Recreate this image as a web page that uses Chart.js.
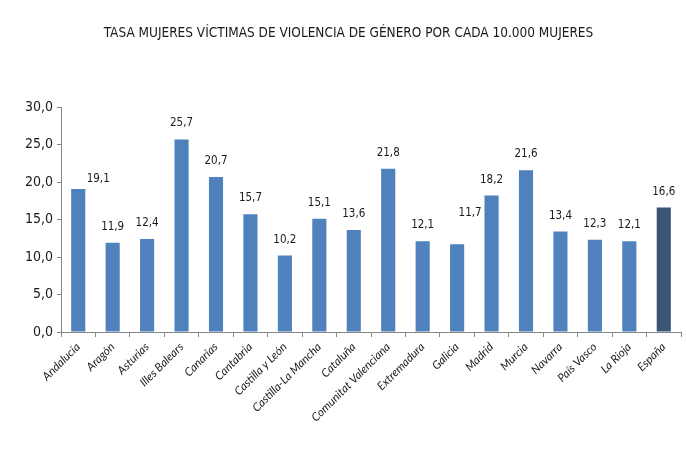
<!DOCTYPE html>
<html><head><meta charset="utf-8">
<script src="https://cdn.jsdelivr.net/npm/chart.js@4/dist/chart.umd.min.js"></script>
<style>html,body{margin:0;padding:0;background:#fff}#wrap{width:686px;height:455px}</style>
</head><body><div id="wrap"><canvas id="c" width="686" height="455"></canvas></div>
<script>
const categories = ["Andalucía","Aragón","Asturias","Illes Balears","Canarias","Cantabria","Castilla y León","Castilla-La Mancha","Cataluña","Comunitat Valenciana","Extremadura","Galicia","Madrid","Murcia","Navarra","País Vasco","La Rioja","España"];
const values = [19.1,11.9,12.4,25.7,20.7,15.7,10.2,15.1,13.6,21.8,12.1,11.7,18.2,21.6,13.4,12.3,12.1,16.6];
const yTicks = [0,5,10,15,20,25,30];
const titleText = "TASA MUJERES VÍCTIMAS DE VIOLENCIA DE GÉNERO POR CADA 10.000 MUJERES";

const fmt = v => v.toFixed(1).replace('.', ',');
const labelOffsets = {0:[20,6], 11:[13,-15]};

const dataLabels = {
  id:'dataLabels',
  afterDatasetsDraw(chart){
    const ctx = chart.ctx;
    const meta = chart.getDatasetMeta(0);
    ctx.save();
    ctx.font = '11.5px "DejaVu Sans Condensed", "DejaVu Sans", sans-serif';
    ctx.fillStyle = '#1a1a1a';
    ctx.textAlign = 'center';
    ctx.textBaseline = 'middle';
    meta.data.forEach((el,i)=>{
      const off = labelOffsets[i] || [0,0];
      ctx.fillText(fmt(values[i]), el.x + off[0], el.y - 16 + off[1]);
    });
    ctx.restore();
  }
};

new Chart(document.getElementById('c'), {
  type:'bar',
  data:{labels:categories, datasets:[{data:values,
    backgroundColor: categories.map((c,i)=> i===categories.length-1 ? '#3A5576' : '#4F81BD'),
    borderWidth:0, barPercentage:0.41, categoryPercentage:1}]},
  options:{
    responsive:false, animation:false,
    layout:{padding:{left:16,right:5,top:0,bottom:0}},
    plugins:{legend:{display:false}, tooltip:{enabled:false},
      title:{display:true, text:titleText, color:'#1a1a1a',
        font:{family:'"DejaVu Sans Condensed", "DejaVu Sans", sans-serif', size:13.5, weight:'normal'},
        padding:{top:25,bottom:66}}},
    scales:{
      x:{
        grid:{display:true, drawOnChartArea:false, drawTicks:true, tickLength:5, color:'#868686', offset:true},
        border:{color:'#868686', width:1},
        ticks:{color:'#1a1a1a', maxRotation:45, minRotation:45, autoSkip:false, padding:3,
          font:{family:'Lato, sans-serif', size:11.5, style:'italic'}},
        afterFit(s){ s.height = 123; }
      },
      y:{
        min:0, max:30,
        afterBuildTicks(s){ s.ticks = yTicks.map(v=>({value:v})); },
        grid:{display:true, drawOnChartArea:false, drawTicks:true, tickLength:4, color:'#868686'},
        border:{color:'#868686', width:1},
        ticks:{color:'#1a1a1a', padding:4, callback:v=>fmt(v),
          font:{family:'"DejaVu Sans Condensed", "DejaVu Sans", sans-serif', size:14}},
        afterFit(s){ s.width = 45; }
      }
    }
  },
  plugins:[dataLabels]
});
</script></body></html>
